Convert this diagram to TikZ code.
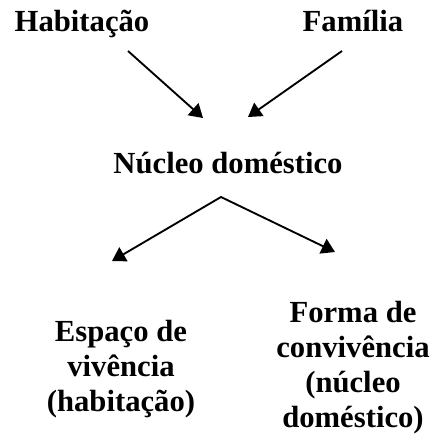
\documentclass[tikz,border=0pt]{standalone}
\usepackage{fontspec}
\setmainfont{Liberation Serif}
\usetikzlibrary{arrows.meta}

\tikzset{
  estilo nucleo/.style={
      x=0.75pt, y=-0.75pt,
      termo/.style={inner sep=0pt, anchor=base, align=center,
          font={\fontsize{23}{26.25}\selectfont\bfseries}},
      bloco/.style={termo, anchor=north},
      seta/.style={-{Triangle[length=10pt,width=12pt]}, line width=1.4pt},
      seta dupla/.style={{Triangle[length=10pt,width=12pt]}-{Triangle[length=10pt,width=12pt]}, line width=1.4pt},
    },
}

\begin{document}
\begin{tikzpicture}[estilo nucleo]
            \useasboundingbox (0,0) rectangle (435,436);

            \node[termo] (hab) at (82,31) {Habita\c{c}\~ao};
            \node[termo] (fam) at (353,31) {Fam\'ilia};
            \node[termo] (nuc) at (228,173) {N\'ucleo dom\'estico};
            \node[bloco] (esp) at (121,320) {Espa\c{c}o de\\viv\^encia\\(habita\c{c}\~ao)};
            \node[bloco] (forma) at (353,301) {Forma de\\conviv\^encia\\(n\'ucleo\\dom\'estico)};

            \coordinate (hab-s) at (128,51);
            \coordinate (fam-s) at (342,51);
            \coordinate (nuc-e1) at (203,118);
            \coordinate (nuc-e2) at (248,117);
            \coordinate (nuc-s) at (221,197);
            \coordinate (esp-e) at (112,261);
            \coordinate (forma-e) at (335,252);

            \draw[seta] (hab-s) -- (nuc-e1);
            \draw[seta] (fam-s) -- (nuc-e2);
            \draw[seta dupla] (esp-e) -- (nuc-s) -- (forma-e);
          \end{tikzpicture}
\end{document}
